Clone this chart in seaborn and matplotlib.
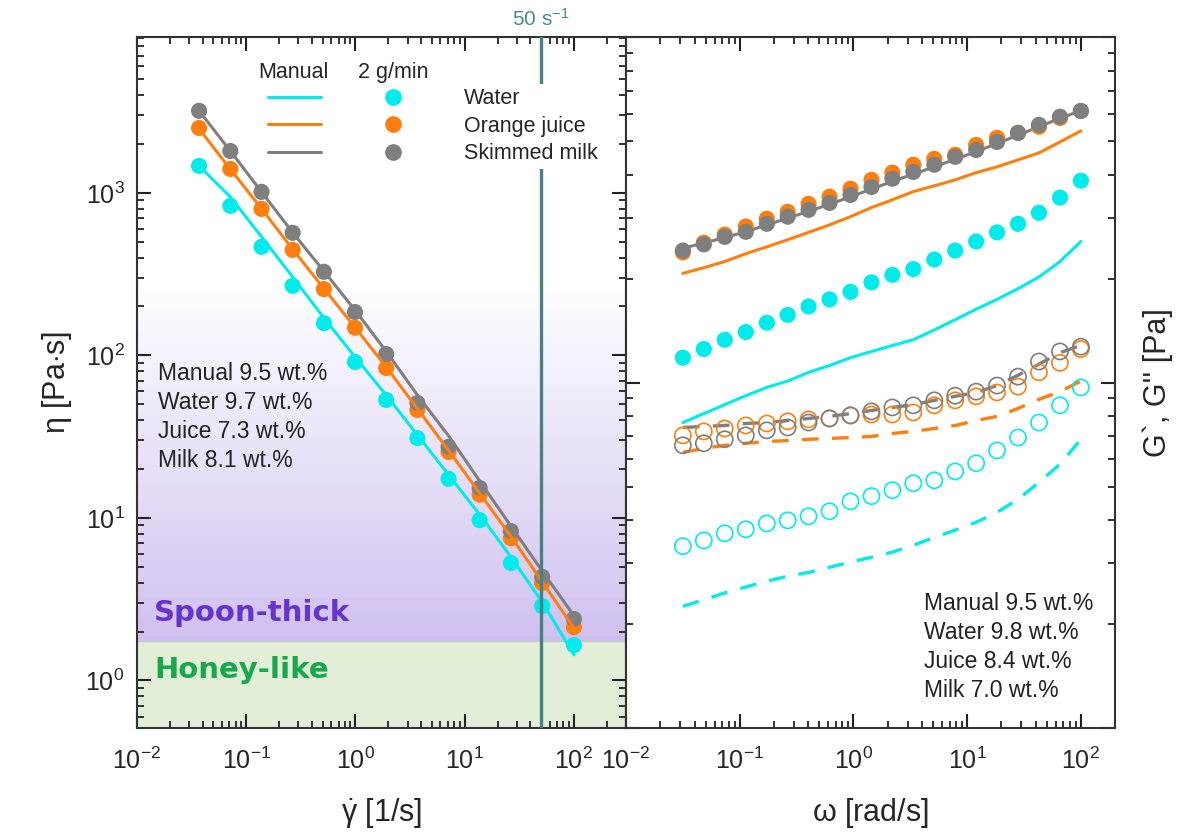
import matplotlib
matplotlib.use("Agg")
import matplotlib.pyplot as plt
from matplotlib.lines import Line2D
from matplotlib.legend_handler import HandlerTuple
from matplotlib.ticker import LogLocator, NullFormatter
import numpy as np
import pandas as pd
import seaborn as sns

# flow curves: viscosity vs shear rate
shear_rate = [0.037, 0.0715, 0.138, 0.266, 0.514, 0.99, 1.91, 3.69, 7.12, 13.7, 26.5, 51.2, 100]
eta_water_2g = [1467, 832, 466, 268, 158, 91.2, 53.2, 31.0, 17.4, 9.7, 5.28, 2.87, 1.65]
eta_juice_2g = [2510, 1405, 797, 446, 256, 148, 83.7, 46.2, 25.5, 13.9, 7.5, 3.98, 2.13]
eta_milk_2g = [3200, 1810, 1015, 568, 327, 185, 102, 51, 27.4, 15.3, 8.3, 4.34, 2.39]
eta_water_man = [1467, 945, 537, 304, 170, 98, 57, 32.4, 18.4, 10.5, 5.75, 3.04, 1.44]
eta_juice_man = [2480, 1400, 800, 450, 258, 149, 85, 47, 26, 14.2, 7.7, 4.05, 2.1]
eta_milk_man = [3200, 1810, 1015, 570, 330, 190, 106, 57, 32, 16.9, 8.9, 4.72, 2.5]

# frequency sweeps: G' (filled / solid) and G'' (open / dashed)
omega = [0.0316, 0.0483, 0.0738, 0.113, 0.173, 0.264, 0.403, 0.616, 0.942, 1.44,
         2.2, 3.36, 5.14, 7.85, 12.0, 18.3, 28.0, 42.8, 65.5, 100]
gp_water_2g = [118, 125, 133, 140, 149, 157, 166, 174, 183, 195, 205, 213, 227, 241, 256, 272, 288, 310, 343, 384]
gp_juice_2g = [238, 254, 268, 283, 298, 312, 329, 345, 364, 386, 405, 427, 444, 456, 487, 511, 528, 550, 583, 611]
gp_milk_2g = [241, 251, 264, 273, 288, 302, 316, 331, 349, 368, 389, 407, 427, 450, 471, 497, 528, 557, 588, 611]
gp_water_man = [76.6, 81.3, 86.3, 91.6, 96.8, 101, 107, 112, 118, 123, 128, 133, 142, 152, 163, 174, 187, 202, 224, 256]
gp_juice_man = [207, 215, 224, 236, 247, 259, 272, 286, 302, 321, 338, 357, 371, 386, 405, 421, 441, 462, 497, 535]
gp_milk_man = [245, 253, 263, 273, 286, 299, 313, 328, 345, 363, 382, 401, 421, 443, 466, 492, 520, 550, 582, 612]
gpp_water_2g = [33.6, 34.9, 36.6, 37.6, 39.1, 39.9, 41.0, 42.4, 45.3, 46.9, 48.8, 51.1, 52.1, 55.3, 58.4, 63.6, 69.3, 76.6, 85.9, 96.8]
gpp_juice_2g = [70.3, 72.2, 73.6, 75.1, 76.1, 77.2, 78.2, 78.7, 80.3, 80.8, 80.8, 81.9, 85.9, 88.8, 91.2, 93.6, 97.3, 107, 114, 125]
gpp_milk_2g = [65.8, 66.7, 68.5, 70.3, 72.7, 74.1, 76.6, 78.7, 80.3, 82.5, 84.7, 85.9, 88.8, 91.6, 94.1, 98.0, 104, 115, 123, 127]
gpp_water_man = [22.5, 23.5, 24.6, 25.6, 26.6, 27.5, 28.2, 29.2, 30.2, 31.2, 32.3, 33.8, 35.6, 37.4, 39.4, 42.1, 45.9, 51.4, 58.0, 68.5]
gpp_juice_man = [62.8, 64.4, 65.8, 66.7, 67.5, 67.9, 68.5, 68.9, 69.3, 69.8, 71.2, 72.2, 73.6, 75.1, 77.6, 79.8, 84.1, 89.4, 94.1, 101]
gpp_milk_man = [74.1, 74.6, 75.1, 76.1, 76.6, 77.6, 78.7, 79.8, 81.3, 83.0, 84.7, 86.3, 88.8, 91.2, 93.6, 98.0, 105, 113, 122, 128]

liquids = ["Water", "Orange juice", "Skimmed milk"]
colores = {"Water": "#00ecec", "Orange juice": "#ff7f0e", "Skimmed milk": "#7f7f7f"}
honey_limit = 1.75
shear_50 = 50

sns.set_theme(style="ticks")
plt.rcParams["font.family"] = ["Liberation Sans", "DejaVu Sans"]
plt.rcParams["mathtext.fontset"] = "custom"
plt.rcParams["mathtext.rm"] = "Liberation Sans"
plt.rcParams["mathtext.it"] = "Liberation Sans:italic"
plt.rcParams["axes.edgecolor"] = "#333333"
plt.rcParams["axes.linewidth"] = 1.5

fig = plt.figure(figsize=(11.79, 8.34), dpi=100)
ax1 = fig.add_axes([0.1162, 0.1271, 0.4148, 0.8285])
ax2 = fig.add_axes([0.5310, 0.1271, 0.4148, 0.8285])

# --- panel izquierdo: viscosidad ---
ax1.set_xscale("log")
ax1.set_yscale("log")
ax1.set_xlim(0.01, 300)
ax1.set_ylim(0.51, 9100)

ax1.axhspan(0.51, honey_limit, color="#e2eed8", zorder=0, lw=0)
ax1.axhline(honey_limit, color="#c8c8c8", lw=1, zorder=0.5)
# degradado lila -> blanco para spoon-thick
bandas = np.logspace(np.log10(honey_limit), np.log10(320), 70)
c0 = np.array([0.81, 0.75, 0.94])
for i in range(len(bandas) - 1):
    f = (i / (len(bandas) - 2)) ** 0.9
    c = c0 + (1 - c0) * f
    ax1.axhspan(bandas[i], bandas[i + 1], color=tuple(c), zorder=0, lw=0)

df_eta_man = pd.DataFrame({"rate": shear_rate * 3,
                           "eta": eta_water_man + eta_juice_man + eta_milk_man,
                           "liq": np.repeat(liquids, len(shear_rate))})
df_eta_2g = pd.DataFrame({"rate": shear_rate * 3,
                          "eta": eta_water_2g + eta_juice_2g + eta_milk_2g,
                          "liq": np.repeat(liquids, len(shear_rate))})

sns.scatterplot(data=df_eta_2g, x="rate", y="eta", hue="liq", palette=colores,
                s=135, edgecolor="none", legend=False, ax=ax1, zorder=3)
sns.lineplot(data=df_eta_man, x="rate", y="eta", hue="liq", palette=colores,
             lw=2.2, legend=False, ax=ax1, sort=False, estimator=None, zorder=3.5)

ax1.axvline(shear_50, color="#468282", lw=2.4, zorder=4)
ax1.text(shear_50, 1.027, "50 s$^{-1}$", transform=ax1.get_xaxis_transform(),
         ha="center", va="center", fontsize=15, color="#4a8a8a")

ax1.text(0.043, 0.53, "Manual 9.5 wt.%\nWater 9.7 wt.%\nJuice 7.3 wt.%\nMilk 8.1 wt.%",
         transform=ax1.transAxes, ha="left", va="top", fontsize=16.5, linespacing=1.33, color="#222222")
ax1.text(0.035, 0.166, "Spoon-thick", transform=ax1.transAxes, ha="left", va="center",
         fontsize=21, fontweight="bold", color="#6633cc", family="DejaVu Sans")
ax1.text(0.035, 0.084, "Honey-like", transform=ax1.transAxes, ha="left", va="center",
         fontsize=21, fontweight="bold", color="#18a84c", family="DejaVu Sans")

# leyenda: linea (manual) + punto (2 g/min)
handles = [(Line2D([], [], color=colores[l], lw=2.2),
            Line2D([], [], ls="none", marker="o", ms=11, color=colores[l])) for l in liquids]
leg = ax1.legend(handles, liquids, handler_map={tuple: HandlerTuple(ndivide=None, pad=2.1)},
                 handlelength=7.0, handletextpad=2.1, loc="upper left",
                 bbox_to_anchor=(0.26, 0.932), frameon=True, facecolor="white",
                 edgecolor="none", framealpha=1, fancybox=False, borderpad=0.2,
                 borderaxespad=0, labelspacing=0.3, fontsize=15.5)
leg.set_zorder(5)
ax1.text(0.319, 0.949, "Manual", transform=ax1.transAxes, ha="center", va="center", fontsize=15.5)
ax1.text(0.524, 0.949, "2 g/min", transform=ax1.transAxes, ha="center", va="center", fontsize=15.5)

ax1.set_xlabel(r"$\dot{\mathrm{\gamma}}$ [1/s]", fontsize=22, labelpad=16)
ax1.set_ylabel(r"$\mathrm{\eta}$ [Pa$\cdot$s]", fontsize=22, labelpad=8)

# --- panel derecho: modulos ---
ax2.set_xscale("log")
ax2.set_yscale("log")
ax2.set_xlim(0.01, 200)
ax2.set_ylim(10, 1000)

n = len(omega)
df_gp_man = pd.DataFrame({"w": omega * 3, "g": gp_water_man + gp_juice_man + gp_milk_man,
                          "liq": np.repeat(liquids, n)})
df_gp_2g = pd.DataFrame({"w": omega * 3, "g": gp_water_2g + gp_juice_2g + gp_milk_2g,
                         "liq": np.repeat(liquids, n)})
df_gpp_man = pd.DataFrame({"w": omega * 3, "g": gpp_water_man + gpp_juice_man + gpp_milk_man,
                           "liq": np.repeat(liquids, n)})

sns.lineplot(data=df_gp_man, x="w", y="g", hue="liq", palette=colores, lw=2.2,
             legend=False, ax=ax2, sort=False, estimator=None, zorder=2)
sns.lineplot(data=df_gpp_man, x="w", y="g", hue="liq", palette=colores, lw=2.4,
             legend=False, ax=ax2, sort=False, estimator=None, zorder=2, dashes=False,
             linestyle=(0, (5, 4)))
sns.scatterplot(data=df_gp_2g, x="w", y="g", hue="liq", palette=colores, s=135,
                edgecolor="none", legend=False, ax=ax2, zorder=3)
for l, vals in zip(liquids, [gpp_water_2g, gpp_juice_2g, gpp_milk_2g]):
    ax2.scatter(omega, vals, s=135, facecolors="none", edgecolors=colores[l],
                linewidths=1.2, zorder=3)

ax2.text(0.609, 0.197, "Manual 9.5 wt.%\nWater 9.8 wt.%\nJuice 8.4 wt.%\nMilk 7.0 wt.%",
         transform=ax2.transAxes, ha="left", va="top", fontsize=16.5, linespacing=1.33, color="#222222")

ax2.set_xlabel(r"$\mathrm{\omega}$ [rad/s]", fontsize=22, labelpad=16)
ax2.set_ylabel("G`, G'' [Pa]", fontsize=22, labelpad=20)
ax2.yaxis.set_label_position("right")
ax2.yaxis.set_major_formatter(NullFormatter())
ax2.yaxis.set_minor_formatter(NullFormatter())

for ax in (ax1, ax2):
    ax.xaxis.set_major_locator(LogLocator(base=10, numticks=20))
    ax.xaxis.set_minor_locator(LogLocator(base=10, subs=np.arange(2, 10), numticks=20))
    ax.yaxis.set_major_locator(LogLocator(base=10, numticks=20))
    ax.yaxis.set_minor_locator(LogLocator(base=10, subs=np.arange(2, 10), numticks=20))
    ax.xaxis.set_minor_formatter(NullFormatter())
    ax.tick_params(which="both", direction="in", top=True, right=True, color="#222222")
    ax.tick_params(which="major", length=10, width=1.5, labelsize=18, pad=14)
    ax.tick_params(which="minor", length=5, width=1.3)
ax1.yaxis.set_minor_formatter(NullFormatter())
ax1.tick_params(axis="y", pad=9)

fig.savefig("out.png", dpi=100)
